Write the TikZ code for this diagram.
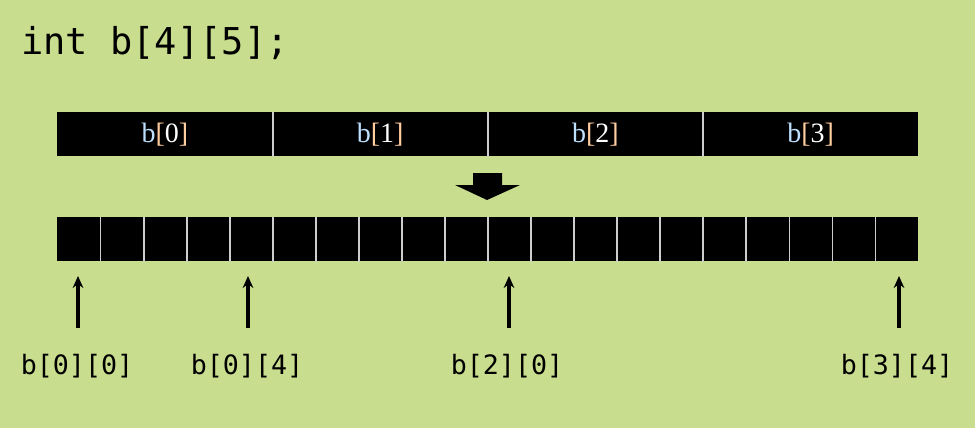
\documentclass[tikz,border=0pt]{standalone}
\usepackage{fontspec}
\setmainfont{Liberation Serif}
\setmonofont{DejaVu Sans Mono}
\usepackage{tikz}
\usetikzlibrary{arrows.meta}
\usepackage{xcolor}
\definecolor{bggreen}{RGB}{200,222,142}
\definecolor{sepgray}{RGB}{205,205,205}
\definecolor{letblue}{RGB}{190,224,255}
\definecolor{brkorange}{RGB}{255,205,160}
\newcommand{\rowname}[1]{\textcolor{letblue}{b}\textcolor{brkorange}{[}#1\textcolor{brkorange}{]}}
\tikzset{
  rowbox/.style={fill=black,draw=none,minimum width=161.44pt,minimum height=33pt,
    anchor=north west,inner sep=0pt,text=white,font=\fontsize{21}{21}\selectfont},
  cellbox/.style={fill=black,draw=none,minimum width=32.29pt,minimum height=33pt,
    anchor=north west,inner sep=0pt},
  sepline/.style={draw=sepgray,line width=1.3pt},
  idxlabel/.style={font=\ttfamily\fontsize{20}{20}\selectfont,inner sep=0pt},
  ptr/.style={-{Stealth[length=9pt,width=8pt]},line width=2.6pt}
}
\begin{document}
\begin{tikzpicture}[x=0.75pt,y=-0.75pt]
		% Background
		\fill[bggreen] (0,0) rectangle (975,428);
		\useasboundingbox (0,0) rectangle (975,428);
		
		% Declaration
		\node[anchor=west,inner sep=0pt,font=\ttfamily\fontsize{27.75}{28}\selectfont] (decl) at (21,43) {int b[4][5];};
		
		% Rows
		\foreach \r in {0,...,3}
			\node[rowbox] (row\r) at ({57+\r*215.25},112) {\rowname{\r}};
		\foreach \r in {0,...,2}
			\draw[sepline] (row\r.north east) -- (row\r.south east);
		
		% Down arrow
		\fill (473,173) -- (502,173) -- (502,185) -- (520,185) -- (487,200) -- (455,185) -- (473,185) -- cycle;
		
		% Flat cells
		\foreach \i in {0,...,19}
			\node[cellbox] (cell\i) at ({57+\i*43.05},217) {};
		\foreach \i in {0,...,18}
			\draw[sepline] (cell\i.north east) -- (cell\i.south east);
		
		% Element labels
		\node[idxlabel] (e00) at (77,366) {b[0][0]};
		\node[idxlabel] (e04) at (247,366) {b[0][4]};
		\node[idxlabel] (e20) at (507,366) {b[2][0]};
		\node[idxlabel] (e34) at (897,366) {b[3][4]};
		
		% Pointers
		\coordinate (p00) at (78,328);
		\coordinate (p04) at (248,328);
		\coordinate (p20) at (509,328);
		\coordinate (p34) at (899,328);
		\draw[ptr] (p00) -- (p00 |- 0,276);
		\draw[ptr] (p04) -- (p04 |- 0,276);
		\draw[ptr] (p20) -- (p20 |- 0,276);
		\draw[ptr] (p34) -- (p34 |- 0,276);
	\end{tikzpicture}
\end{document}
